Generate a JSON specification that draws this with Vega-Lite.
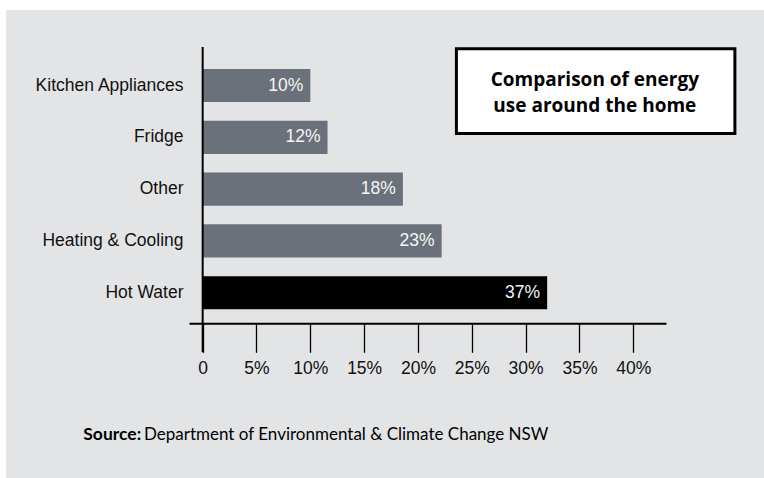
{
  "$schema": "https://vega.github.io/schema/vega-lite/v6.json",
  "autosize": "none",
  "width": 477,
  "height": 276.3,
  "padding": {"left": 189, "top": 47, "right": 98, "bottom": 154.7},
  "background": "#e3e4e6",
  "config": {"view": {"stroke": null}},
  "data": {"values": [
    {"use": "Kitchen Appliances", "value": 10.0, "label": "10%", "highlight": "no"},
    {"use": "Fridge", "value": 11.6, "label": "12%", "highlight": "no"},
    {"use": "Other", "value": 18.6, "label": "18%", "highlight": "no"},
    {"use": "Heating & Cooling", "value": 22.2, "label": "23%", "highlight": "no"},
    {"use": "Hot Water", "value": 32.0, "label": "37%", "highlight": "yes"}
  ]},
  "resolve": {"scale": {"y": "independent"}},
  "layer": [
    {
      "mark": {"type": "bar"},
      "encoding": {
        "y": {"field": "use", "type": "nominal", "sort": null,
          "scale": {"type": "band", "paddingInner": 0.36, "paddingOuter": 0.347, "align": 0.61},
          "axis": {"title": null, "domain": false, "ticks": false, "tickSize": 0, "labelPadding": 6,
            "labelFont": "'Liberation Sans', Arial, sans-serif", "labelFontSize": 17.5, "labelColor": "#111111", "labelLimit": 300}},
        "x": {"field": "value", "type": "quantitative", "scale": {"domain": [-1.27, 43.04], "nice": false, "zero": false},
          "axis": {"title": null, "grid": false, "values": [0, 5, 10, 15, 20, 25, 30, 35, 40],
            "labelExpr": "datum.value == 0 ? '0' : datum.value + '%'",
            "domainColor": "#000000", "domainWidth": 2, "tickColor": "#000000", "tickWidth": 1.3, "tickSize": 29,
            "labelFont": "'Liberation Sans', Arial, sans-serif", "labelFontSize": 17.5, "labelColor": "#111111",
            "labelPadding": 7, "labelFlush": false}},
        "color": {"field": "highlight", "type": "nominal", "scale": {"domain": ["no", "yes"], "range": ["#6b717a", "#000000"]}, "legend": null}
      }
    },
    {
      "mark": {"type": "text", "align": "right", "baseline": "middle", "dx": -7, "color": "#f5f5f5",
        "font": "'Liberation Sans', Arial, sans-serif", "fontSize": 17.5},
      "encoding": {
        "y": {"field": "use", "type": "nominal", "sort": null, "scale": {"type": "band", "paddingInner": 0.36, "paddingOuter": 0.347, "align": 0.61}, "axis": null},
        "x": {"field": "value", "type": "quantitative"},
        "text": {"field": "label"}
      }
    },
    {
      "data": {"values": [{"item": "value axis"}]},
      "mark": {"type": "rule", "color": "#000000", "strokeWidth": 2},
      "encoding": {
        "x": {"datum": 0, "type": "quantitative"},
        "y": {"datum": 0, "type": "quantitative", "scale": {"domain": [0, 100], "nice": false, "zero": false, "reverse": true}, "axis": null},
        "y2": {"datum": 110.5}
      }
    },
    {
      "data": {"values": [{"item": "title box"}]},
      "mark": {"type": "rect", "fill": "#ffffff", "stroke": "#000000", "strokeWidth": 3},
      "encoding": {
        "x": {"datum": 23.57, "type": "quantitative"},
        "x2": {"datum": 49.44},
        "y": {"datum": 0.65, "type": "quantitative", "scale": {"domain": [0, 100], "nice": false, "zero": false, "reverse": true}, "axis": null},
        "y2": {"datum": 31.3}
      }
    },
    {
      "data": {"values": [{"t": "Comparison of energy"}]},
      "mark": {"type": "text", "align": "center", "baseline": "alphabetic",
        "font": "'Open Sans', sans-serif", "fontWeight": "bold", "fontSize": 19, "color": "#000000"},
      "encoding": {
        "text": {"field": "t"},
        "x": {"datum": 36.43, "type": "quantitative"},
        "y": {"datum": 14.12, "type": "quantitative", "scale": {"domain": [0, 100], "nice": false, "zero": false, "reverse": true}, "axis": null}
      }
    },
    {
      "data": {"values": [{"t": "use around the home"}]},
      "mark": {"type": "text", "align": "center", "baseline": "alphabetic",
        "font": "'Open Sans', sans-serif", "fontWeight": "bold", "fontSize": 19, "color": "#000000"},
      "encoding": {
        "text": {"field": "t"},
        "x": {"datum": 36.43, "type": "quantitative"},
        "y": {"datum": 23.6, "type": "quantitative", "scale": {"domain": [0, 100], "nice": false, "zero": false, "reverse": true}, "axis": null}
      }
    },
    {
      "data": {"values": [{"t": "Source:"}]},
      "mark": {"type": "text", "align": "left", "baseline": "alphabetic",
        "font": "Lato, sans-serif", "fontWeight": "bold", "fontSize": 17.5, "color": "#000000"},
      "encoding": {
        "text": {"field": "t"},
        "x": {"datum": -11.09, "type": "quantitative"},
        "y": {"datum": 142.2, "type": "quantitative", "scale": {"domain": [0, 100], "nice": false, "zero": false, "reverse": true}, "axis": null}
      }
    },
    {
      "data": {"values": [{"t": "Department of Environmental & Climate Change NSW"}]},
      "mark": {"type": "text", "align": "left", "baseline": "alphabetic",
        "font": "Lato, sans-serif", "fontSize": 17, "color": "#000000"},
      "encoding": {
        "text": {"field": "t"},
        "x": {"datum": -5.45, "type": "quantitative"},
        "y": {"datum": 142.2, "type": "quantitative", "scale": {"domain": [0, 100], "nice": false, "zero": false, "reverse": true}, "axis": null}
      }
    },
    {
      "data": {"values": [{"item": "top margin"}]},
      "mark": {"type": "rect", "fill": "#ffffff"},
      "encoding": {
        "x": {"datum": -20, "type": "quantitative"},
        "x2": {"datum": 56},
        "y": {"datum": -20, "type": "quantitative", "scale": {"domain": [0, 100], "nice": false, "zero": false, "reverse": true}, "axis": null},
        "y2": {"datum": -13.4}
      }
    },
    {
      "data": {"values": [{"item": "left margin"}]},
      "mark": {"type": "rect", "fill": "#ffffff"},
      "encoding": {
        "x": {"datum": -20, "type": "quantitative"},
        "x2": {"datum": -18.26},
        "y": {"datum": -20, "type": "quantitative", "scale": {"domain": [0, 100], "nice": false, "zero": false, "reverse": true}, "axis": null},
        "y2": {"datum": 160}
      }
    }
  ]
}
